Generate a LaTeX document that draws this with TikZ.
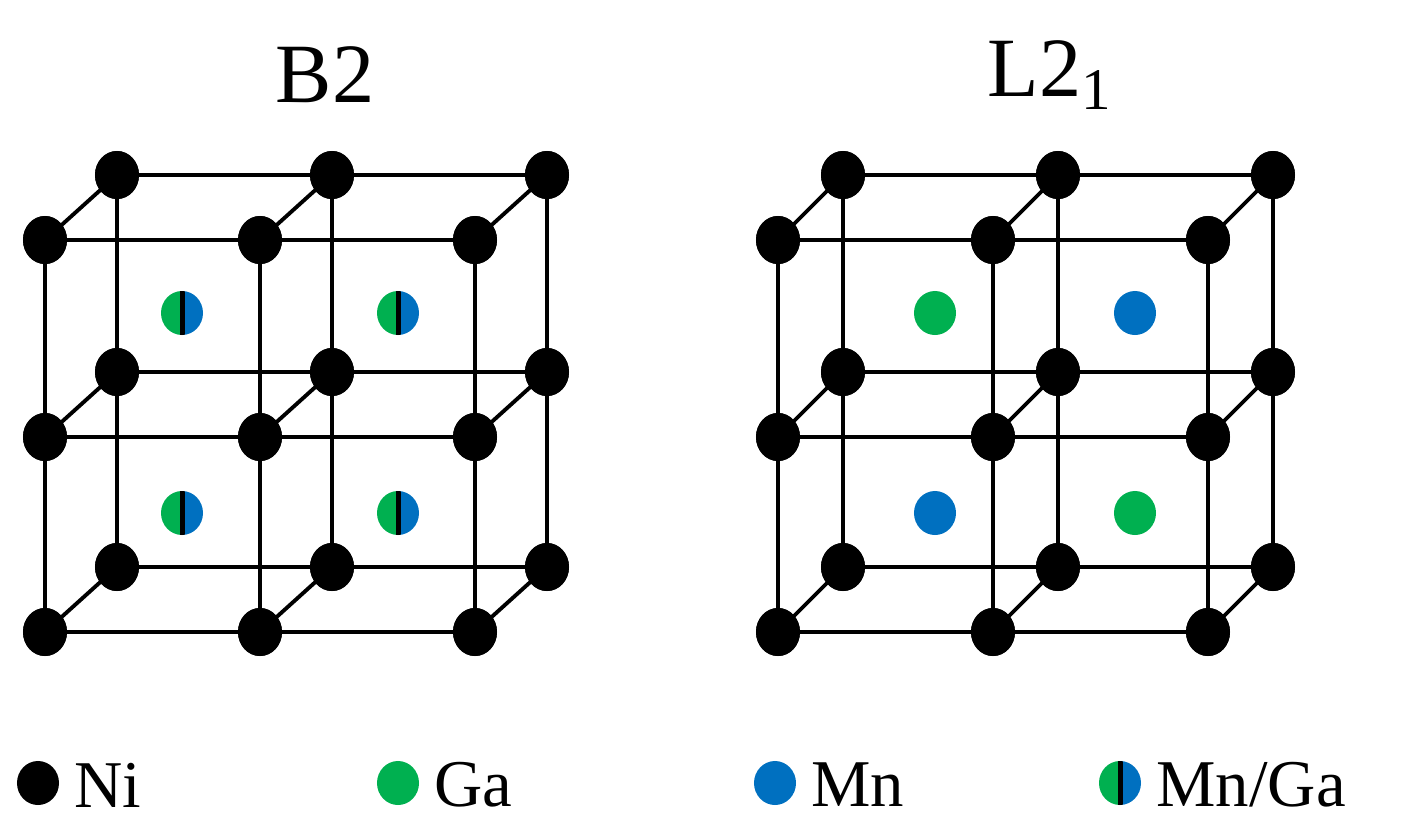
\documentclass[tikz,border=0pt]{standalone}
\usepackage{fontspec}
\setmainfont{Liberation Serif}
\usetikzlibrary{shapes.geometric}
\definecolor{ga}{HTML}{00B050}
\definecolor{mn}{HTML}{0070C0}
\begin{document}
\begin{tikzpicture}[x=0.01cm,y=-0.01cm,
  ni/.style={ellipse,fill=black,minimum width=0.44cm,minimum height=0.48cm,inner sep=0},
  atom/.style={ellipse,minimum width=0.42cm,minimum height=0.44cm,inner sep=0},
  bond/.style={line width=1.1pt},
  lbl/.style={font=\fontsize{19}{19}\selectfont,anchor=west}]
\useasboundingbox (0,0) rectangle (1417,833);
\foreach \c/\ox/\dx in {b/45/72, l/778/65}{
 \foreach \i/\x in {0/0,1/1,2/2}{
  \foreach \j/\y in {0/240,1/437,2/632}{
   \node[ni] (\c f\i\j) at ({\ox+\x*215},\y) {};
   \node[ni] (\c b\i\j) at ({\ox+\x*215+\dx},{\y-65}) {};
  }}
}
\foreach \c in {b,l}{
 \foreach \i in {0,1,2}{\foreach \j in {0,1,2}{
   \draw[bond] (\c f\i\j.center) -- (\c b\i\j.center);}}
 \foreach \s in {f,b}{
  \foreach \i/\k in {0/1,1/2}{\foreach \j in {0,1,2}{
    \draw[bond] (\c\s\i\j.center) -- (\c\s\k\j.center);
    \draw[bond] (\c\s\j\i.center) -- (\c\s\j\k.center);}}}
}
\foreach \c in {b,l}{
 \foreach \i in {0,1,2}{\foreach \j in {0,1,2}{
   \fill (\c f\i\j.center) ellipse (22 and 24);
   \fill (\c b\i\j.center) ellipse (22 and 24);
  }}}
\foreach \n/\x/\y in {m1/182/313,m2/398/313,m3/182/513,m4/398/513,m5/1120/783}{
  \node[atom] (\n) at (\x,\y) {};
  \begin{scope}
   \clip (\x,\y) ellipse (21 and 22);
   \fill[ga] (\x-22,\y-23) rectangle (\x,\y+23);
   \fill[mn] (\x,\y-23) rectangle (\x+22,\y+23);
   \fill[black] (\x-2.5,\y-23) rectangle (\x+2.5,\y+23);
  \end{scope}
}
\node[atom,fill=ga] (g1) at (935,313) {};
\node[atom,fill=mn] (n1) at (1135,313) {};
\node[atom,fill=mn] (n2) at (935,513) {};
\node[atom,fill=ga] (g2) at (1135,513) {};
\node[font=\fontsize{24}{24}\selectfont] (t1) at (325,75) {B2};
\node[font=\fontsize{24}{24}\selectfont] (t2) at (1050,75) {L2\textsubscript{1}};
\node[atom,fill=black] (k1) at (38,783) {};
\node[lbl] (k1t) at (62,785) {Ni};
\node[atom,fill=ga] (k2) at (398,783) {};
\node[lbl] (k2t) at (422,785) {Ga};
\node[atom,fill=mn] (k3) at (775,783) {};
\node[lbl] (k3t) at (799,785) {Mn};
\node[lbl] (k4t) at (1144,785) {Mn/Ga};
\end{tikzpicture}
\end{document}
